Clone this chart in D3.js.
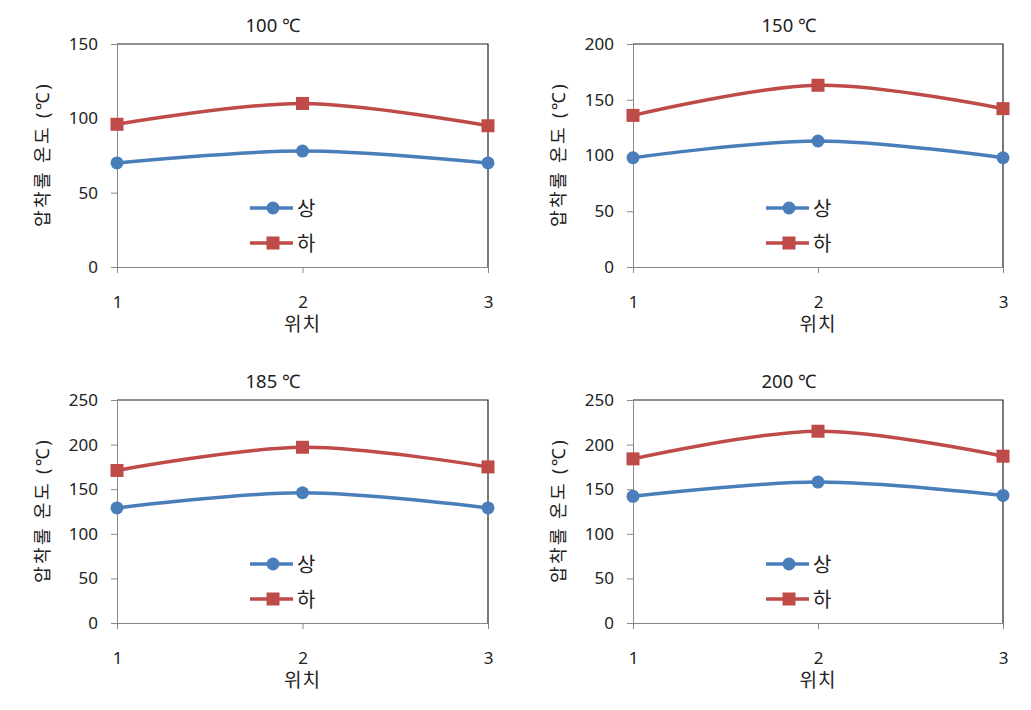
<!DOCTYPE html>
<html><head><meta charset="utf-8">
<script src="https://cdn.jsdelivr.net/npm/d3@7"></script>
<style>
body{margin:0;background:#fff;}
text{font-family:"Noto Sans","Noto Sans CJK KR",sans-serif;fill:#222;}
</style></head>
<body>
<svg id="chart" width="1031" height="710"></svg>
<script>
const panelTitles = ["100 ℃", "150 ℃", "185 ℃", "200 ℃"];
const positions = [1, 2, 3];
const yMaxes = [150, 200, 250, 250];
const yTickSteps = [50, 50, 50, 50];
const upperValues = [[70, 78, 70], [98, 113, 98], [129, 146, 129], [142, 158, 143]];
const lowerValues = [[96, 110, 95], [136, 163, 142], [171, 197, 175], [184, 215, 187]];
const seriesNames = ["상", "하"];
const xTitle = "위치";
const yTitle = "압착롤 온도 (℃)";

const colors = ["#4A7EBB", "#BE4B48"];
const svg = d3.select("#chart");
const boxes = [
  {x: 117, y: 44, w: 371, h: 223},
  {x: 633, y: 44, w: 370, h: 223},
  {x: 117, y: 400, w: 371, h: 223},
  {x: 633, y: 400, w: 370, h: 223}
];

boxes.forEach((b, i) => {
  const g = svg.append("g").attr("transform", `translate(${b.x},${b.y})`);
  const x = d3.scaleLinear().domain([1, 3]).range([0, b.w]);
  const y = d3.scaleLinear().domain([0, yMaxes[i]]).range([b.h, 0]);

  g.append("path").attr("d", `M0,0H${b.w}V${b.h}`).attr("fill", "none")
    .attr("stroke", "#222").attr("stroke-width", 1.2);

  const yAxis = g.append("g").call(d3.axisLeft(y)
      .tickValues(d3.range(0, yMaxes[i] + 1, yTickSteps[i])).tickSize(6).tickPadding(13));
  yAxis.select(".domain").attr("stroke", "#888");
  yAxis.selectAll(".tick line").attr("stroke", "#888");
  yAxis.selectAll("text").style("font-size", "17px").style("font-family", "'Noto Sans',sans-serif").attr("fill", "#222");

  const xAxis = g.append("g").attr("transform", `translate(0,${b.h})`)
    .call(d3.axisBottom(x).tickValues(positions).tickFormat(d3.format("d")).tickSize(6).tickPadding(23));
  xAxis.select(".domain").attr("stroke", "#888");
  xAxis.selectAll(".tick line").attr("stroke", "#888");
  xAxis.selectAll("text").style("font-size", "17px").style("font-family", "'Noto Sans',sans-serif").attr("fill", "#222");

  g.append("text").attr("x", 156).attr("y", -12).attr("text-anchor", "middle")
    .style("font-size", "18.5px").text(panelTitles[i]);
  g.append("text").attr("x", b.w / 2).attr("y", b.h + 64).attr("text-anchor", "middle")
    .style("font-size", "19px").style("letter-spacing", "1px").text(xTitle);
  g.append("text").attr("transform", `translate(${-74},${b.h / 2 - 1}) rotate(-90)`)
    .attr("text-anchor", "middle").attr("dy", "0.35em")
    .style("font-size", "18px").style("letter-spacing", "2.4px").text(yTitle);

  const line = d3.line().x((d, j) => x(positions[j])).y(d => y(d)).curve(d3.curveCatmullRom.alpha(0));
  [upperValues[i], lowerValues[i]].forEach((vals, s) => {
    g.append("path").datum(vals).attr("d", line).attr("fill", "none")
      .attr("stroke", colors[s]).attr("stroke-width", 3.5);
    vals.forEach((v, j) => {
      if (s === 0) {
        g.append("circle").attr("cx", x(positions[j])).attr("cy", y(v)).attr("r", 6.5)
          .attr("fill", colors[s]);
      } else {
        g.append("rect").attr("x", x(positions[j]) - 6.5).attr("y", y(v) - 6.5)
          .attr("width", 13).attr("height", 13).attr("fill", colors[s]);
      }
    });
  });

  seriesNames.forEach((name, s) => {
    const ly = s === 0 ? 164 : 199;
    g.append("line").attr("x1", 133).attr("x2", 176).attr("y1", ly).attr("y2", ly)
      .attr("stroke", colors[s]).attr("stroke-width", 3.5);
    if (s === 0) g.append("circle").attr("cx", 156).attr("cy", ly).attr("r", 6.5).attr("fill", colors[s]);
    else g.append("rect").attr("x", 149.5).attr("y", ly - 6.5).attr("width", 13).attr("height", 13).attr("fill", colors[s]);
    g.append("text").attr("x", 180).attr("y", ly).attr("dy", "0.38em")
      .style("font-size", "20px").text(name);
  });
});
</script>
</body></html>
